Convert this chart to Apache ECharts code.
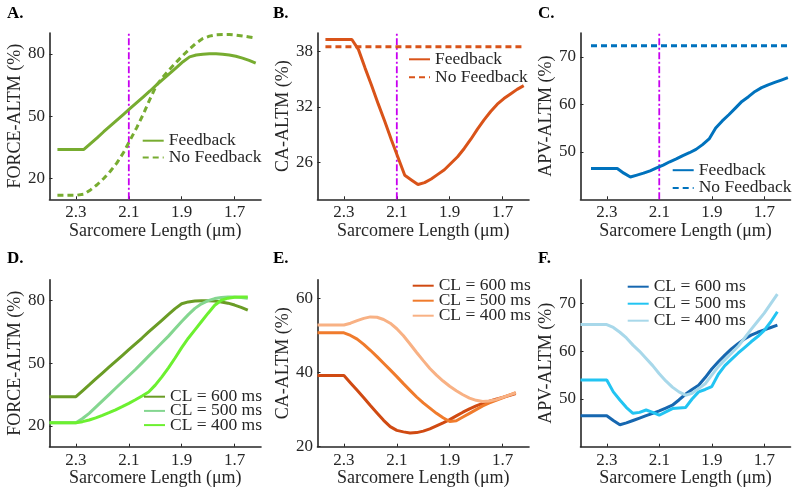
<!DOCTYPE html>
<html><head><meta charset="utf-8">
<script src="https://cdn.jsdelivr.net/npm/echarts@6/dist/echarts.min.js"></script>
<style>html,body{margin:0;padding:0;background:#fff}#c{width:800px;height:495px}</style>
</head><body><div id="c"></div>
<script>
// ---------- data ----------
const xTickValues = [2.3, 2.1, 1.9, 1.7];
const xBottom = [2.4,2.375,2.35,2.325,2.3,2.275,2.25,2.225,2.2,2.175,2.15,2.125,2.1,2.075,2.05,2.025,2.0,1.975,1.95,1.925,1.9,1.875,1.85,1.825,1.8,1.775,1.75,1.725,1.7,1.675,1.65];
const xTopAB = [2.37,2.345,2.32,2.295,2.27,2.245,2.22,2.195,2.17,2.145,2.12,2.095,2.07,2.045,2.02,1.995,1.97,1.945,1.92,1.895,1.87,1.845,1.82,1.795,1.77,1.745,1.72,1.695,1.67,1.645,1.62];
const xTopC = [2.36,2.335,2.31,2.285,2.26,2.235,2.21,2.185,2.16,2.135,2.11,2.085,2.06,2.035,2.01,1.985,1.96,1.935,1.91,1.885,1.86,1.835,1.81,1.785,1.76,1.735,1.71,1.685,1.66,1.635,1.61];
const markerX = [2.1];

// A
const forceFeedback = [34,34,34,34,34,36.8,39.6,42.5,45.3,48.1,50.9,53.7,56.5,59.3,62.1,65.0,67.8,70.6,73.4,76.2,78.5,79.4,79.8,80.0,80.0,79.8,79.4,78.8,77.9,76.8,75.5];
const forceNoFeedback = [12,12,12,12,12.5,14.5,17,20,23.5,27.5,32.5,38.5,44.5,51,58.2,64.9,69.0,72.6,76.0,79.3,82.3,85.2,87.3,88.5,89.1,89.3,89.3,89.0,88.6,88.1,87.6];
// B
const caFeedback = [39.3,39.3,39.3,39.3,39.3,38.2,36.2,34.3,32.3,30.4,28.4,26.5,24.6,24.1,23.6,23.8,24.2,24.7,25.2,25.9,26.6,27.5,28.5,29.6,30.6,31.5,32.3,32.9,33.4,33.9,34.3];
const caNoFeedback = [38.5,38.5,38.5,38.5,38.5,38.5,38.5,38.5,38.5,38.5,38.5,38.5,38.5,38.5,38.5,38.5,38.5,38.5,38.5,38.5,38.5,38.5,38.5,38.5,38.5,38.5,38.5,38.5,38.5,38.5,38.5];
// C
const apvFeedback = [46.5,46.5,46.5,46.5,46.5,45.5,44.7,45.1,45.5,46.0,46.6,47.2,47.9,48.5,49.2,49.8,50.5,51.5,52.7,55.0,56.5,57.8,59.2,60.6,61.6,62.7,63.5,64.1,64.6,65.1,65.6];
const apvNoFeedback = [72.3,72.3,72.3,72.3,72.3,72.3,72.3,72.3,72.3,72.3,72.3,72.3,72.3,72.3,72.3,72.3,72.3,72.3,72.3,72.3,72.3,72.3,72.3,72.3,72.3,72.3,72.3,72.3,72.3,72.3,72.3];
// D
const force600 = [34,34,34,34,34,36.8,39.6,42.5,45.3,48.1,50.9,53.7,56.5,59.3,62.1,65.0,67.8,70.6,73.4,76.2,78.5,79.4,79.8,80.0,80.0,79.8,79.4,78.8,77.9,76.8,75.5];
const force500 = [21.5,21.5,21.5,21.5,21.5,23.5,26.0,29.0,32.0,35.0,38.0,41.0,44.0,47.0,50.2,53.4,56.6,59.8,63.0,66.5,70.0,73.3,76.3,78.5,80.0,81.0,81.5,81.7,81.7,81.5,81.2];
const force400 = [21.5,21.5,21.5,21.5,21.5,22.0,22.8,23.8,25.0,26.3,27.7,29.2,30.8,32.5,34.3,36.2,39.5,43.5,47.8,52.5,57.5,62.0,66.0,70.0,74.0,77.8,80.2,81.2,81.6,81.7,81.7];
// E
const ca600 = [39.2,39.2,39.2,39.2,39.2,37.2,35.2,33.2,31.1,29.1,27.1,25.4,24.4,24.0,23.7,23.8,24.2,24.8,25.6,26.4,27.3,28.3,29.3,30.2,31.0,31.7,32.3,32.8,33.3,33.8,34.3];
const ca500 = [50.7,50.7,50.7,50.7,50.7,50.0,49.0,47.6,46.0,44.3,42.5,40.7,38.9,37.0,35.2,33.4,31.8,30.4,29.0,27.8,26.8,27.0,28.0,29.0,30.0,31.0,31.8,32.5,33.2,33.9,34.6];
const ca400 = [52.8,52.8,52.8,52.8,52.8,53.3,54.0,54.6,55.0,54.9,54.3,53.3,51.8,49.9,47.7,45.4,43.2,41.1,39.3,37.7,36.3,35.1,34.0,33.1,32.5,32.2,32.3,32.7,33.3,33.9,34.5];
// F
const apv600 = [46.5,46.5,46.5,46.5,46.5,45.5,44.6,45.0,45.5,46.0,46.5,47.0,47.5,48.1,48.7,49.8,51.0,52.0,52.9,54.5,56.3,57.8,59.2,60.5,61.6,62.6,63.4,64.0,64.5,65.0,65.5];
const apv500 = [54,54,54,54,54,51.5,49.8,48.2,47.0,47.2,47.7,47.2,46.6,47.3,48.0,48.1,48.2,50.0,51.5,52.0,52.6,55.2,57.0,58.3,59.6,60.8,62.0,63.1,64.4,66.2,68.3];
const apv400 = [65.6,65.6,65.6,65.6,65.6,65.0,64.0,62.8,61.3,60.0,58.5,57.0,55.3,53.8,52.5,51.5,50.8,51.2,52.2,53.2,55.0,56.8,58.2,59.6,61.0,62.8,64.6,66.3,68.0,70.0,72.0];

// ---------- layout / style ----------
const FONT = 'Liberation Serif';
const INK = '#262626';
const panels = [
  {label:'A.', lx:7, ly:14.7, grid:{left:49.5, top:33, width:211.5, height:166.3}, y:[10,90], yt:[20,50,80], yName:'FORCE-ALTM (%)', vline:true,
   legend:{left:141.7, c:140.7, lh:16.7},
   series:[['Feedback', xTopAB, forceFeedback, '#77AC30', 'solid'], ['No Feedback', xTopAB, forceNoFeedback, '#77AC30', 'dashed']]},
  {label:'B.', lx:273, ly:14.7, grid:{left:317.5, top:33, width:211.5, height:166.3}, y:[22,40], yt:[26,32,38], yName:'CA-ALTM (%)', vline:true,
   legend:{left:408, c:59.3, lh:18},
   series:[['Feedback', xTopAB, caFeedback, '#D95319', 'solid'], ['No Feedback', xTopAB, caNoFeedback, '#D95319', 'dashed']]},
  {label:'C.', lx:538, ly:14.7, grid:{left:580.5, top:33, width:210, height:166.3}, y:[40,75], yt:[50,60,70], yName:'APV-ALTM (%)', vline:true,
   legend:{left:671.7, c:170.2, lh:17.7},
   series:[['Feedback', xTopC, apvFeedback, '#0072BD', 'solid'], ['No Feedback', xTopC, apvNoFeedback, '#0072BD', 'dashed']]},
  {label:'D.', lx:7, ly:260, grid:{left:49.5, top:279.8, width:211.5, height:166.9}, y:[10,90], yt:[20,50,80], yName:'FORCE-ALTM (%)', vline:false,
   legend:{left:143, c:396.7, lh:14.2},
   series:[['CL = 600 ms', xBottom, force600, '#6a9c25', 'solid'], ['CL = 500 ms', xBottom, force500, '#84d690', 'solid'], ['CL = 400 ms', xBottom, force400, '#6cf030', 'solid']]},
  {label:'E.', lx:273, ly:260, grid:{left:317.5, top:279.8, width:211.5, height:166.9}, y:[20,65], yt:[20,40,60], yName:'CA-ALTM (%)', vline:false,
   legend:{left:411.7, c:285.7, lh:15},
   series:[['CL = 600 ms', xBottom, ca600, '#d04a12', 'solid'], ['CL = 500 ms', xBottom, ca500, '#f07b2c', 'solid'], ['CL = 400 ms', xBottom, ca400, '#f8b184', 'solid']]},
  {label:'F.', lx:538, ly:260, grid:{left:580.5, top:279.8, width:210, height:166.9}, y:[40,75], yt:[50,60,70], yName:'APV-ALTM (%)', vline:false,
   legend:{left:626.7, c:286.7, lh:17},
   series:[['CL = 600 ms', xBottom, apv600, '#1667b0', 'solid'], ['CL = 500 ms', xBottom, apv500, '#22c4f2', 'solid'], ['CL = 400 ms', xBottom, apv400, '#a8d8ea', 'solid']]}
];

const option = {animation:false, backgroundColor:'#fff', grid:[], xAxis:[], yAxis:[], series:[], legend:[], graphic:[]};
const txt = (size, extra) => Object.assign({color:INK, fontFamily:FONT, fontSize:size}, extra||{});
const LEG_TH = 18;

panels.forEach((p, i) => {
  option.grid.push(Object.assign({containLabel:false}, p.grid));
  option.xAxis.push({
    gridIndex:i, type:'value', inverse:true, min:1.6, max:2.4,
    axisLine:{show:true, onZero:false, lineStyle:{color:INK, width:1.6}},
    axisTick:{show:true, inside:true, length:3, customValues:xTickValues, lineStyle:{color:INK, width:1}},
    axisLabel:{customValues:xTickValues, formatter:v => Number(v).toFixed(1), margin:5, ...txt(17)},
    splitLine:{show:false},
    name:'Sarcomere Length (μm)', nameLocation:'middle', nameGap:21, nameTextStyle:txt(18)
  });
  option.yAxis.push({
    gridIndex:i, type:'value', min:p.y[0], max:p.y[1],
    axisLine:{show:true, onZero:false, lineStyle:{color:INK, width:1.6}},
    axisTick:{show:true, inside:true, length:3, customValues:p.yt, lineStyle:{color:INK, width:1}},
    axisLabel:{customValues:p.yt, margin:4.5, ...txt(17)},
    splitLine:{show:false},
    name:p.yName, nameLocation:'middle', nameGap:24, nameTextStyle:txt(18)
  });
  if (p.vline) {
    option.series.push({
      type:'line', xAxisIndex:i, yAxisIndex:i, symbol:'none', silent:true,
      data:[[markerX[0], p.y[0]], [markerX[0], p.y[1]]],
      lineStyle:{color:'#c800f0', width:1.8, type:[7,2.5,2,2.5]}, z:1
    });
  }
  const names = [];
  p.series.forEach(s => {
    const nm = p.label + '|' + s[0];
    names.push(nm);
    option.series.push({
      type:'line', name:nm, xAxisIndex:i, yAxisIndex:i, symbol:'none', showSymbol:false,
      data:s[1].map((x, k) => [x, s[2][k]]),
      lineStyle:{color:s[3], width:3, type: s[4] === 'dashed' ? [6,4] : 'solid'},
      itemStyle:{color:s[3]}, z:2
    });
  });
  option.legend.push({
    data:names, orient:'vertical', left:p.legend.left, top:p.legend.c - LEG_TH / 2,
    itemWidth:21, itemHeight:3, itemGap:p.legend.lh - LEG_TH, padding:0, selectedMode:false,
    itemStyle:{opacity:0},
    formatter:n => n.split('|')[1],
    textStyle:txt(17.5)
  });
  option.graphic.push({type:'text', left:p.lx, top:p.ly - 10,
    style:{text:p.label, fill:'#000', font:'bold 17px "Liberation Serif"'}});
});

const chart = echarts.init(document.getElementById('c'), null, {renderer:'canvas'});
chart.setOption(option);
</script>
</body></html>
